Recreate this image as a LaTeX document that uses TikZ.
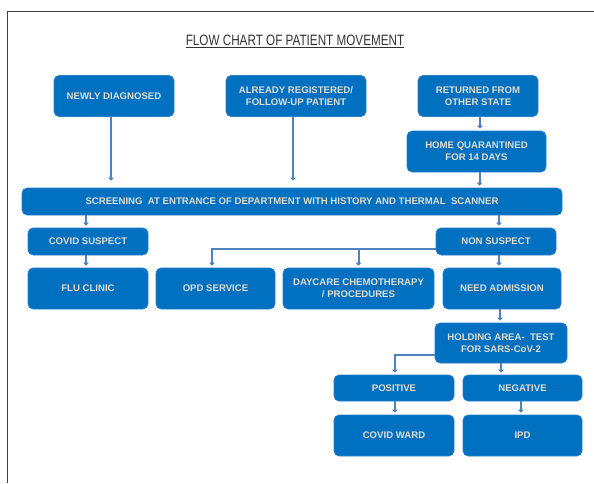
\documentclass[tikz,border=0pt]{standalone}
\usepackage{fontspec}
\setmainfont{Liberation Sans}
\usetikzlibrary{arrows.meta}
\definecolor{boxblue}{HTML}{0070C0}
\definecolor{boxedge}{HTML}{2A80CC}
\definecolor{boxtext}{HTML}{E4DDCD}
\definecolor{linkblue}{HTML}{4F81BD}
\tikzset{
	blok/.style={draw=boxedge, line width=0.6pt, fill=boxblue, rounded corners=5pt, text=boxtext, align=center, inner sep=0pt, font=\bfseries\fontsize{9.6}{12}\selectfont},
	link/.style={draw=linkblue, line width=2pt, -{Triangle[length=3pt,width=5.5pt]}, shorten >=2pt},
}

\begin{document}
\begin{tikzpicture}[x=1pt, y=-1pt]
		%%%%% START %%%%%
		\useasboundingbox (0, 0) rectangle (594, 483);
		\draw[line width=0.8pt, black!75] (7, 483) -- (7, 11) -- (594, 11);
		
		\node[text=black!80, font=\fontsize{15}{18}\selectfont] (title) at (295, 41) {\scalebox{0.78}[1]{\underline{FLOW CHART OF PATIENT MOVEMENT}}};
		
		% entry points
		\node[blok, minimum width=120pt, minimum height=41pt] (newly) at (114, 96) {NEWLY DIAGNOSED};
		\node[blok, minimum width=140pt, minimum height=41pt] (already) at (296, 96) {ALREADY REGISTERED/\\FOLLOW-UP PATIENT};
		\node[blok, minimum width=120pt, minimum height=41pt] (returned) at (478, 96) {RETURNED FROM\\OTHER STATE};
		\node[blok, minimum width=139pt, minimum height=41pt] (home) at (476.5, 151.5) {HOME QUARANTINED\\FOR 14 DAYS};
		
		\node[blok, minimum width=540pt, minimum height=27pt] (screen) at (292, 201.5) {SCREENING\ \ AT ENTRANCE\ OF DEPARTMENT WITH HISTORY AND THERMAL\ \ SCANNER};
		
		% after screening
		\node[blok, minimum width=120pt, minimum height=27pt] (suspect) at (88, 241.5) {COVID SUSPECT};
		\node[blok, minimum width=120pt, minimum height=27pt] (nonsuspect) at (496, 241.5) {NON SUSPECT};
		
		\node[blok, minimum width=120pt, minimum height=41pt] (flu) at (88, 288.5) {FLU CLINIC};
		\node[blok, minimum width=119pt, minimum height=41pt] (opd) at (215.5, 288.5) {OPD SERVICE};
		\node[blok, minimum width=151pt, minimum height=41pt] (daycare) at (358.5, 288.5) {DAYCARE CHEMOTHERAPY\\/ PROCEDURES};
		\node[blok, minimum width=118pt, minimum height=41pt] (admission) at (502, 288.5) {NEED ADMISSION};
		
		\node[blok, minimum width=132pt, minimum height=40pt] (holding) at (501, 343) {HOLDING AREA-\ \ TEST\\FOR SARS-CoV-2};
		
		\node[blok, minimum width=120pt, minimum height=26pt] (positive) at (394, 388) {POSITIVE};
		\node[blok, minimum width=119pt, minimum height=26pt] (negative) at (522.5, 388) {NEGATIVE};
		
		\node[blok, minimum width=120pt, minimum height=41pt] (ward) at (394, 435.5) {COVID WARD};
		\node[blok, minimum width=119pt, minimum height=41pt] (ipd) at (522.5, 435.5) {IPD};
		
		% connectors
		\draw[link, shorten >=7pt] ([xshift=-3pt]newly.south) -- ([xshift=-3pt]newly.south |- screen.north);
		\draw[link, shorten >=7pt] ([xshift=-3pt]already.south) -- ([xshift=-3pt]already.south |- screen.north);
		\draw[link] ([xshift=2pt]returned.south) -- ([xshift=2pt]returned.south |- home.north);
		\draw[link] ([xshift=3pt]home.south) -- ([xshift=3pt]home.south |- screen.north);
		
		\draw[link] ([xshift=-2pt]suspect.north |- screen.south) -- ([xshift=-2pt]suspect.north);
		\draw[link] ([xshift=3pt]nonsuspect.north |- screen.south) -- ([xshift=3pt]nonsuspect.north);
		\draw[link] ([xshift=-2pt]suspect.south) -- ([xshift=-2pt]suspect.south |- flu.north);
		\draw[link] ([xshift=3pt]nonsuspect.south) -- ([xshift=3pt]nonsuspect.south |- admission.north);
		
		\coordinate (split) at ([yshift=-7.5pt]nonsuspect.west);
		\draw[link] (split) -| ([xshift=-3.5pt]opd.north);
		\draw[link] (daycare.north |- split) -- (daycare.north);
		
		\draw[link] ([xshift=-2pt]admission.south) -- ([xshift=-2pt]admission.south |- holding.north);
		
		\draw[link] ([yshift=-12pt]holding.west) -| ([xshift=1pt]positive.north);
		\draw[link] (holding.south) -- (holding.south |- negative.north);
		\draw[link] ([xshift=1pt]positive.south) -- ([xshift=1pt]positive.south |- ward.north);
		\draw[link] ([xshift=-1.5pt]negative.south) -- ([xshift=-1.5pt]negative.south |- ipd.north);
		%%%%% END %%%%%
	\end{tikzpicture}
\end{document}
